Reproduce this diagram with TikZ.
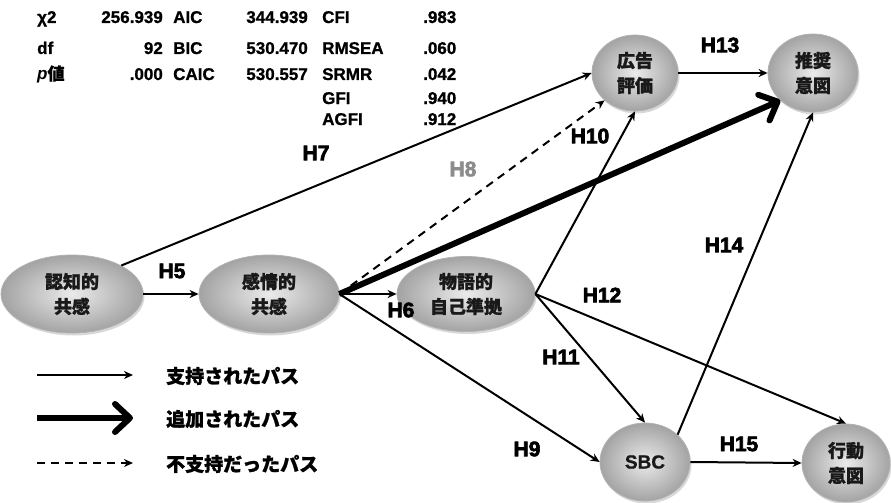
\documentclass[tikz,border=0pt]{standalone}
\usepackage{fontspec}
\setmainfont{Liberation Sans}
\newfontfamily\jp{Noto Sans CJK JP}[BoldFeatures={FakeBold=1.2}]
\newfontfamily\hfont{Liberation Sans}[BoldFeatures={FakeBold=3}]
\newfontfamily\tfont{Liberation Sans}[BoldFeatures={FakeBold=1}]
\usetikzlibrary{arrows.meta,shapes.geometric,shadows}
\tikzset{
  lat/.style={ellipse, inner sep=0pt, draw=black!30, line width=0.8pt,
    inner color=black!8, outer color=black!36,
    drop shadow={opacity=0.3, shadow xshift=1.5pt, shadow yshift=-2.5pt},
    font=\jp\bfseries\fontsize{18}{25}\selectfont, align=center, text=black!90},
  supp/.style={line width=2pt, -{Stealth[length=9pt,width=8pt]}},
  addp/.style={line width=6pt, -{Straight Barb[length=15pt,width=28pt,round]}},
  unsupp/.style={line width=2pt, dash pattern=on 8pt off 6pt, -{Stealth[length=9pt,width=8pt]}},
  hl/.style={font=\hfont\bfseries\fontsize{21}{21}\selectfont, inner sep=0pt},
  tb/.style={font=\tfont\bfseries\fontsize{17}{17}\selectfont, inner sep=0pt},
  leg/.style={font=\jp\bfseries\fontsize{19}{19}\selectfont, inner sep=0pt, anchor=west},
}
\begin{document}
\begin{tikzpicture}[x=1pt,y=-1pt]
\fill[white] (0,0) rectangle (891,503);
\useasboundingbox (0,0) rectangle (891,503);

% fit table
\node[tb, anchor=base west] (a1) at (37,23) {χ2};
\node[tb, anchor=base east] (b1) at (163,23) {256.939};
\node[tb, anchor=base west] (c1) at (173,23) {AIC};
\node[tb, anchor=base east] (d1) at (308,23) {344.939};
\node[tb, anchor=base west] (e1) at (322,23) {CFI};
\node[tb, anchor=base west] (f1) at (423,23) {.983};
\node[tb, anchor=base west] (a2) at (37,54) {df};
\node[tb, anchor=base east] (b2) at (163,54) {92};
\node[tb, anchor=base west] (c2) at (173,54) {BIC};
\node[tb, anchor=base east] (d2) at (308,54) {530.470};
\node[tb, anchor=base west] (e2) at (322,54) {RMSEA};
\node[tb, anchor=base west] (f2) at (423,54) {.060};
\node[tb, anchor=base west] (a3) at (37,80) {{\itshape p}{\jp\bfseries 値}};
\node[tb, anchor=base east] (b3) at (163,80) {.000};
\node[tb, anchor=base west] (c3) at (173,80) {CAIC};
\node[tb, anchor=base east] (d3) at (308,80) {530.557};
\node[tb, anchor=base west] (e3) at (322,80) {SRMR};
\node[tb, anchor=base west] (f3) at (423,80) {.042};
\node[tb, anchor=base west] (e4) at (322,104) {GFI};
\node[tb, anchor=base west] (f4) at (423,104) {.940};
\node[tb, anchor=base west] (e5) at (322,125) {AGFI};
\node[tb, anchor=base west] (f5) at (423,125) {.912};

% latent variables
\node[lat, minimum width=142pt, minimum height=78pt] (ninchi) at (72,294) {認知的\\共感};
\node[lat, minimum width=140pt, minimum height=78pt] (kanjo) at (269,294) {感情的\\共感};
\node[lat, minimum width=138pt, minimum height=75pt] (mono) at (466,294) {物語的\\自己準拠};
\node[lat, minimum width=86pt, minimum height=76pt] (kokoku) at (635,73) {広告\\評価};
\node[lat, minimum width=90pt, minimum height=78pt] (suisho) at (813,73) {推奨\\意図};
\node[lat, minimum width=90pt, minimum height=78pt, font=\tfont\bfseries\fontsize{19}{22}\selectfont] (sbc) at (645,462) {SBC};
\node[lat, minimum width=88pt, minimum height=78pt] (kodo) at (846,463) {行動\\意図};

% paths
\draw[supp] (ninchi.east) -- (kanjo.west);
\draw[supp] (ninchi.30) -- (kokoku.west);
\draw[supp] (kanjo.east) -- (mono.west);
\draw[unsupp] (kanjo.east) -- (kokoku.222);
\draw[addp] (kanjo.east) -- (suisho.220);
\draw[supp] (kanjo.east) -- (sbc.west);
\draw[supp] (mono.east) -- (kokoku.south);
\draw[supp] (mono.east) -- (sbc.north);
\draw[supp] (mono.east) -- (kodo.north);
\draw[supp] (kokoku.east) -- (suisho.west);
\draw[supp] (sbc.40) -- (suisho.south);
\draw[supp] (sbc.east) -- (kodo.west);

% hypothesis labels
\node[hl] (h5) at (172,271) {H5};
\node[hl] (h6) at (401,310) {H6};
\node[hl] (h7) at (316,153) {H7};
\node[hl, text=black!45] (h8) at (463,169) {H8};
\node[hl] (h9) at (527,449) {H9};
\node[hl] (h10) at (590,136) {H10};
\node[hl] (h11) at (561,357) {H11};
\node[hl] (h12) at (602,295) {H12};
\node[hl] (h13) at (720,45) {H13};
\node[hl] (h14) at (724,245) {H14};
\node[hl] (h15) at (739,444) {H15};

% legend
\coordinate (l1a) at (37,375); \coordinate (l1b) at (133,375);
\coordinate (l2a) at (37,418); \coordinate (l2b) at (133,418);
\coordinate (l3a) at (37,463); \coordinate (l3b) at (133,463);
\draw[supp] (l1a) -- (l1b);
\draw[addp] (l2a) -- (l2b);
\draw[unsupp] (l3a) -- (l3b);
\node[leg] (t1) at (166,376) {支持されたパス};
\node[leg] (t2) at (166,419) {追加されたパス};
\node[leg] (t3) at (166,464) {不支持だったパス};
\end{tikzpicture}
\end{document}
